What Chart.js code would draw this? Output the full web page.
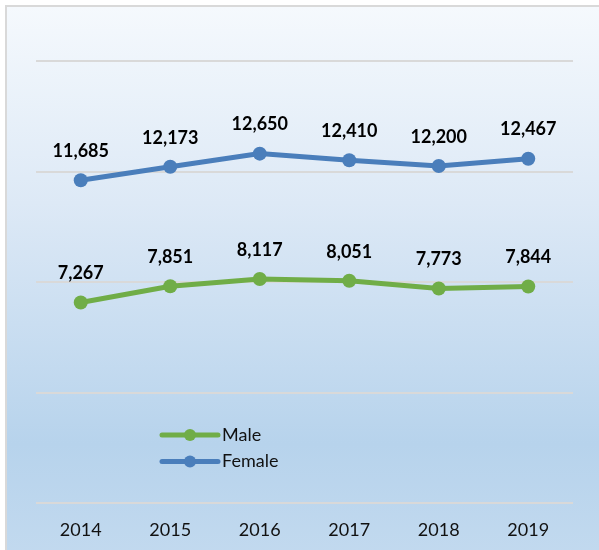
<!DOCTYPE html>
<html>
<head>
<meta charset="utf-8">
<script src="https://cdn.jsdelivr.net/npm/chart.js@4/dist/chart.umd.min.js"></script>
<style>
  html, body { margin: 0; padding: 0; background: #ffffff; width: 599px; height: 550px; overflow: hidden; }
  #bg {
    position: absolute; left: 5px; top: 5px; width: 620px; height: 560px;
    border-left: 2px solid #d9d9d9; border-top: 2px solid #d9d9d9;
    background: linear-gradient(to bottom, #f5f9fd 0%, #dde9f6 35%, #b7d3ec 78%, #c3daef 100%);
  }
  #c { position: absolute; left: 0; top: 0; }
</style>
</head>
<body>
<div id="bg"></div>
<canvas id="c" width="599" height="567"></canvas>
<script>
const years = ['2014', '2015', '2016', '2017', '2018', '2019'];
const maleValues = [7267, 7851, 8117, 8051, 7773, 7844];
const femaleValues = [11685, 12173, 12650, 12410, 12200, 12467];
const seriesNames = ['Male', 'Female'];
const yMin = 0, yMax = 16000, yStep = 4000;

const FONT = 'Lato, "Open Sans", sans-serif';

const valueLabels = {
  id: 'valueLabels',
  afterDatasetsDraw(chart) {
    const ctx = chart.ctx;
    ctx.save();
    ctx.font = 'bold 18px ' + FONT;
    ctx.fillStyle = '#000000';
    ctx.textAlign = 'center';
    ctx.textBaseline = 'middle';
    chart.data.datasets.forEach((ds, i) => {
      const meta = chart.getDatasetMeta(i);
      meta.data.forEach((pt, j) => {
        ctx.fillText(ds.data[j].toLocaleString('en-US'), pt.x, pt.y - 29);
      });
    });
    ctx.restore();
  }
};

const innerLegend = {
  id: 'innerLegend',
  afterDraw(chart) {
    const ctx = chart.ctx;
    ctx.save();
    const x0 = 162, x1 = 218, y0 = 435, dy = 26.5;
    chart.data.datasets.forEach((ds, i) => {
      const y = y0 + i * dy;
      ctx.strokeStyle = ds.borderColor;
      ctx.lineWidth = 5;
      ctx.lineCap = 'round';
      ctx.beginPath();
      ctx.moveTo(x0, y);
      ctx.lineTo(x1, y);
      ctx.stroke();
      ctx.fillStyle = ds.borderColor;
      ctx.beginPath();
      ctx.arc((x0 + x1) / 2, y, 6, 0, Math.PI * 2);
      ctx.fill();
      ctx.fillStyle = '#111111';
      ctx.font = '18px ' + FONT;
      ctx.textAlign = 'left';
      ctx.textBaseline = 'middle';
      ctx.fillText(ds.label, x1 + 4, y);
    });
    ctx.restore();
  }
};

new Chart(document.getElementById('c'), {
  type: 'line',
  data: {
    labels: years,
    datasets: [
      {
        label: seriesNames[0],
        data: maleValues,
        borderColor: '#70ad47',
        backgroundColor: '#70ad47',
        borderWidth: 5,
        pointRadius: 7,
        pointBorderWidth: 0,
        pointBackgroundColor: '#70ad47',
        tension: 0
      },
      {
        label: seriesNames[1],
        data: femaleValues,
        borderColor: '#4a7ebb',
        backgroundColor: '#4a7ebb',
        borderWidth: 5,
        pointRadius: 7,
        pointBorderWidth: 0,
        pointBackgroundColor: '#4a7ebb',
        tension: 0
      }
    ]
  },
  options: {
    responsive: false,
    animation: false,
    layout: { padding: { top: 61, left: 36, right: 26, bottom: 10 } },
    plugins: { legend: { display: false }, tooltip: { enabled: false } },
    scales: {
      x: {
        offset: true,
        grid: { display: false, drawTicks: false },
        border: { display: false },
        ticks: { color: '#111111', font: { family: FONT, size: 18 }, padding: 16, maxRotation: 0 }
      },
      y: {
        min: yMin, max: yMax,
        ticks: { display: false, stepSize: yStep },
        grid: { color: '#d9d9d9', lineWidth: 2, drawTicks: false },
        border: { display: false }
      }
    }
  },
  plugins: [valueLabels, innerLegend]
});
</script>
</body>
</html>
